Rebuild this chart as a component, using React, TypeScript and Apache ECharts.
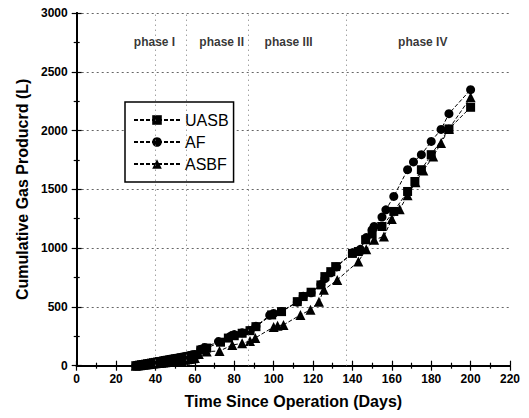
import React, { useEffect, useRef } from "react";
import * as echarts from "echarts";

// ---- data ----
const uasbData: [number, number][] = [
  [30, 0], [31, 2], [32, 5], [33, 8], [34, 10], [35, 13], [36, 16], [37, 19], [38, 22], [39, 25],
  [40, 28], [41, 31], [42, 34], [43, 36], [44, 40], [45, 43], [46, 46], [47, 49], [48, 52], [49, 55],
  [50, 58], [51, 61], [52, 63], [53, 67], [54, 70], [55, 73], [56, 76], [57, 79], [58, 83], [59, 87],
  [60, 92], [63, 133], [66, 150], [73, 200], [77, 235], [80, 255], [84, 276], [88, 298], [91, 332],
  [99, 432], [104, 460], [112, 545], [115, 588], [119, 625], [124, 687], [126, 758], [129, 800],
  [131.5, 843], [140, 955], [143, 971], [146.7, 1071], [150, 1120], [155, 1184], [161, 1312],
  [168, 1482], [171.7, 1567], [175, 1667], [180, 1795], [189, 2014], [200, 2198],
];
const afData: [number, number][] = [
  [30, 0], [31, 3], [32, 6], [33, 9], [34, 12], [35, 15], [36, 18], [37, 21], [38, 24], [39, 27],
  [40, 30], [41, 33], [42, 35], [43, 39], [44, 42], [45, 45], [46, 48], [47, 51], [48, 54], [49, 57],
  [50, 60], [51, 63], [52, 66], [53, 69], [54, 72], [55, 75], [56, 79], [57, 83], [58, 87], [59, 91],
  [60, 96], [63, 140], [65, 155], [72, 205], [78, 250], [80, 265], [84, 280], [88, 300], [91, 335],
  [98, 430], [100, 445], [104, 460], [112, 540], [115, 590], [119, 620], [124, 690], [126, 740],
  [129, 790], [132, 840], [140, 960], [144, 990], [147, 1090], [150, 1156], [151, 1184], [155, 1264],
  [157, 1326], [161, 1440], [168, 1667], [171, 1733], [175, 1795], [180, 1908], [185, 2010],
  [189, 2144], [200, 2348],
];
const asbfData: [number, number][] = [
  [30, 0], [31, 2], [32, 4], [33, 6], [34, 8], [35, 10], [36, 12], [37, 14], [38, 16], [39, 18],
  [40, 20], [41, 22], [42, 24], [43, 26], [44, 28], [45, 30], [46, 32], [47, 34], [48, 36], [49, 38],
  [50, 40], [51, 42], [52, 44], [53, 46], [54, 48], [55, 51], [56, 54], [57, 57], [58, 60], [59, 63],
  [60, 66], [62, 100], [66, 120], [72.5, 125], [79, 176], [84, 190], [88, 210], [90.7, 236],
  [100, 330], [102, 340], [105, 347], [113.6, 432], [118.7, 475], [123, 545], [125.5, 645],
  [132.3, 730], [143, 886], [147, 990], [151, 1071], [156, 1099], [160, 1247], [164, 1330],
  [168, 1450], [172, 1560], [176, 1660], [181, 1780], [185, 1894], [189, 2014], [200, 2283],
];
const seriesNames = ["UASB", "AF", "ASBF"];
const phaseNames = ["phase I", "phase II", "phase III", "phase IV"];
const phaseDays = [39.5, 73.6, 107.6, 175.7];
const phaseLabelY = 2757;
const dividerDays = [40, 55.5, 87.3, 137];

const FONT = "'Liberation Sans', Arial, Helvetica, sans-serif";

export default function App() {
  const ref = useRef<HTMLDivElement>(null);
  useEffect(() => {
    if (!ref.current) return;
    const chart = echarts.init(ref.current, null, { renderer: "svg" });
    const lineCommon = {
      type: "line" as const,
      xAxisIndex: 0,
      yAxisIndex: 0,
      symbolSize: 9,
      lineStyle: { color: "#000", width: 1, type: [4, 2] as any },
      itemStyle: { color: "#000" },
      emphasis: { disabled: true },
    };
    const axisTickStyle = { color: "#000", width: 1.2 };
    chart.setOption({
      animation: false,
      textStyle: { fontFamily: FONT },
      grid: { left: 76.7, right: 19, top: 13, bottom: 52.3 },
      legend: {
        data: seriesNames,
        orient: "vertical",
        left: 125,
        top: 102,
        itemWidth: 46,
        itemHeight: 12,
        itemGap: 6,
        padding: [10, 5, 10, 8],
        borderColor: "#000",
        borderWidth: 1.5,
        backgroundColor: "#fff",
        textStyle: { fontSize: 16, color: "#000", fontFamily: FONT },
      },
      xAxis: [
        {
          type: "value",
          min: 0,
          max: 220,
          interval: 20,
          name: "Time Since Operation (Days)",
          nameLocation: "middle",
          nameGap: 28,
          nameTextStyle: { fontSize: 16, fontWeight: "bold", color: "#000", fontFamily: FONT },
          axisLine: { lineStyle: { color: "#000", width: 2 } },
          axisTick: { inside: true, length: 5, lineStyle: axisTickStyle },
          minorTick: { show: true, splitNumber: 2, length: 3, lineStyle: axisTickStyle },
          axisLabel: { fontSize: 12, fontWeight: "bold", color: "#000", margin: 7, fontFamily: FONT },
          splitLine: { show: false },
        },
        {
          type: "value",
          position: "top",
          min: 0,
          max: 220,
          interval: 20,
          axisLine: { show: true, lineStyle: { color: "#000", width: 2 } },
          axisTick: { inside: true, length: 5, lineStyle: axisTickStyle },
          minorTick: { show: true, splitNumber: 2, length: 3, lineStyle: axisTickStyle },
          axisLabel: { show: false },
          splitLine: { show: false },
        },
      ],
      yAxis: [
        {
          type: "value",
          min: 0,
          max: 3000,
          interval: 500,
          name: "Cumulative Gas Producrd (L)",
          nameLocation: "middle",
          nameGap: 41,
          nameTextStyle: { fontSize: 16, fontWeight: "bold", color: "#000", fontFamily: FONT },
          axisLine: { show: true, lineStyle: { color: "#000", width: 2 } },
          axisTick: { show: true, inside: true, length: 5, lineStyle: axisTickStyle },
          minorTick: { show: true, splitNumber: 2, length: 3, lineStyle: axisTickStyle },
          axisLabel: {
            fontSize: 12,
            fontWeight: "bold",
            color: "#000",
            margin: 9,
            fontFamily: FONT,
            formatter: (v: number) => String(v),
          },
          splitLine: { show: true, lineStyle: { color: "#666", width: 1, type: [2, 3] } },
        },
        {
          type: "value",
          position: "right",
          min: 0,
          max: 3000,
          interval: 500,
          axisLine: { show: true, lineStyle: { color: "#000", width: 2 } },
          axisTick: { show: true, inside: true, length: 5, lineStyle: axisTickStyle },
          minorTick: { show: true, splitNumber: 2, length: 3, lineStyle: axisTickStyle },
          axisLabel: { show: false },
          splitLine: { show: false },
        },
      ],
      series: [
        {
          type: "scatter",
          name: "phases",
          xAxisIndex: 0,
          yAxisIndex: 0,
          symbolSize: 0,
          silent: true,
          data: phaseDays.map((d, i) => ({ value: [d, phaseLabelY], name: phaseNames[i] })),
          label: {
            show: true,
            position: "inside",
            formatter: (p: any) => p.name,
            fontSize: 12,
            fontWeight: "bold",
            color: "#000",
            fontFamily: FONT,
          },
          markLine: {
            silent: true,
            symbol: "none",
            label: { show: false },
            lineStyle: { color: "#777", width: 1, type: [1, 4] },
            data: dividerDays.map((d) => ({ xAxis: d })),
          },
        },
        { ...lineCommon, name: "UASB", symbol: "rect", data: uasbData },
        { ...lineCommon, name: "AF", symbol: "circle", data: afData },
        { ...lineCommon, name: "ASBF", symbol: "triangle", symbolSize: 10, data: asbfData },
      ],
    });
    return () => chart.dispose();
  }, []);
  return (
    <div
      ref={ref}
      style={{ position: "fixed", left: 0, top: 0, width: 529, height: 418, background: "#fff" }}
    />
  );
}
